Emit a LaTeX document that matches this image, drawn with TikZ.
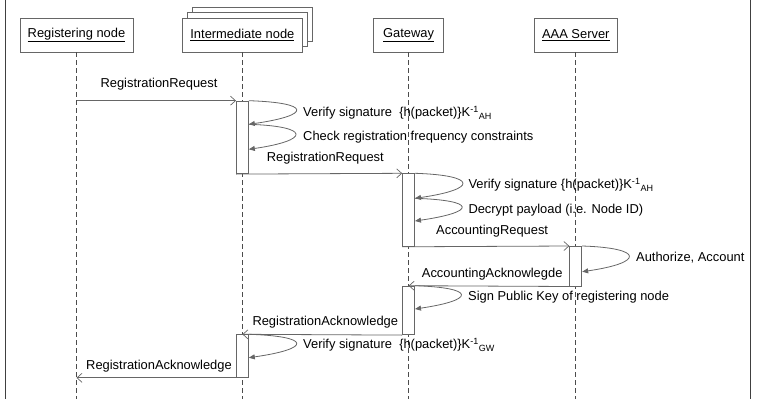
\documentclass[tikz,border=0pt]{standalone}
\usepackage{fontspec}
\setmainfont{Liberation Sans}
\usetikzlibrary{arrows.meta,calc}

\begin{document}
\begin{tikzpicture}[x=1pt,y=-1pt,
  font=\fontsize{12.9}{15}\selectfont,
  line/.style={draw=black!60, line width=0.8pt},
  actor/.style={draw=black!60, line width=0.8pt, fill=white, minimum height=34pt, inner sep=0pt},
  lifeline/.style={draw=black!70, line width=0.7pt, dash pattern=on 5pt off 3pt},
  bar/.style={draw=black!60, line width=0.8pt, fill=white, minimum width=12pt, inner sep=0pt, anchor=north},
  msg/.style={line, -{Straight Barb[length=5pt,width=9pt,line width=0.7pt]}},
  selfmsg/.style={draw=black!60, line width=0.8pt, -{Triangle[length=6pt,width=5pt]}},
  lbl/.style={inner sep=0pt, anchor=west, text=black},
  mlbl/.style={inner sep=0pt, text=black},
]
\useasboundingbox (0,0) rectangle (758,399);

% frame sides
\draw[black!75, line width=1.4pt] (5.5,0) -- (5.5,399);
\draw[black!75, line width=1.4pt] (750.5,0) -- (750.5,399);
\coordinate (bottom) at (0,399);

% participants (the intermediate node is a stack of three)
\draw[line, fill=white] (192.7,7) rectangle (312,41);
\draw[line, fill=white] (187.7,12.5) rectangle (307,46.5);
\node[actor, minimum width=113pt] (reg) at (76.5,35) {\underline{Registering node}};
\node[actor, minimum width=119.3pt] (inter) at (242.4,35) {\underline{Intermediate node}};
\node[actor, minimum width=70pt] (gw) at (408.6,35) {\underline{Gateway}};
\node[actor, minimum width=83pt] (aaa) at (575.8,35) {\underline{AAA Server}};

% lifelines
\foreach \p in {reg,inter,gw,aaa}
  \draw[lifeline] (\p.south) -- (\p.south |- bottom);

% activation bars
\node[bar, minimum height=72.6pt] (b1) at (242.4,100.7) {};
\node[bar, minimum height=72.7pt] (b2) at (408.6,173.3) {};
\node[bar, minimum height=39.7pt] (b3) at (575.8,246) {};
\node[bar, minimum height=48.6pt] (b4) at (408.6,285.7) {};
\node[bar, minimum height=42.7pt] (b5) at (242.4,334.3) {};

% points on the bars where self calls start and end
\coordinate (l1s) at (b1.north east);
\coordinate (l1e) at ($(b1.north east)+(0,23.6)$);
\coordinate (l2e) at ($(b1.north east)+(0,48.6)$);
\coordinate (l3s) at (b2.north east);
\coordinate (l3e) at ($(b2.north east)+(0,25)$);
\coordinate (l4e) at ($(b2.north east)+(0,47.7)$);
\coordinate (l5s) at (b3.north east);
\coordinate (l5e) at ($(b3.north east)+(0,25.7)$);
\coordinate (l6s) at (b4.north east);
\coordinate (l6e) at ($(b4.north east)+(0,23.3)$);
\coordinate (l7s) at (b5.north east);
\coordinate (l7e) at ($(b5.north east)+(0,23.4)$);
\coordinate (regend) at (reg.south |- b5.south);

% messages
\draw[msg] (reg.south |- b1.north) -- (b1.north west);
\node[mlbl] (m1) at (159,84) {RegistrationRequest};
\draw[msg] (b1.south west) -- (b2.north west);
\node[lbl] (m2) at (266.7,157.7) {RegistrationRequest};
\draw[msg] (b2.south west) -- (b3.north west);
\node[lbl] (m3) at (436,231) {AccountingRequest};
\draw[msg] (b3.south west) -- (b4.north);
\node[lbl] (m4) at (421.7,274) {AccountingAcknowlegde};
\draw[msg] (b4.south west) -- (b5.north);
\node[lbl] (m5) at (252.3,322.3) {RegistrationAcknowledge};
\draw[msg] (b5.south west) -- (regend);
\node[lbl] (m6) at (86,365.7) {RegistrationAcknowledge};

% self calls
\draw[selfmsg] (l1s) .. controls +(63,2) and +(63,-9) .. (l1e);
\node[lbl] (s1) at (303,113) {Verify signature\ \ \{h(packet)\}K\textsuperscript{-1}\textsubscript{AH}};
\draw[selfmsg] (l1e) .. controls +(62,2) and +(62,-9) .. (l2e);
\node[lbl] (s2) at (303,137) {Check registration frequency constraints};
\draw[selfmsg] (l3s) .. controls +(63,2) and +(63,-9) .. (l3e);
\node[lbl] (s3) at (468.3,185) {Verify signature \{h(packet)\}K\textsuperscript{-1}\textsubscript{AH}};
\draw[selfmsg] (l3e) .. controls +(62,2) and +(62,-9) .. (l4e);
\node[lbl] (s4) at (468.3,210) {Decrypt payload (i.e. Node ID)};
\draw[selfmsg] (l5s) .. controls +(62,2) and +(62,-9) .. (l5e);
\node[lbl] (s5) at (636,258) {Authorize, Account};
\draw[selfmsg] (l6s) .. controls +(61,2) and +(61,-9) .. (l6e);
\node[lbl] (s6) at (468,297) {Sign Public Key of registering node};
\draw[selfmsg] (l7s) .. controls +(63,2) and +(63,-9) .. (l7e);
\node[lbl] (s7) at (303,345) {Verify signature\ \ \{h(packet)\}K\textsuperscript{-1}\textsubscript{GW}};
\end{tikzpicture}
\end{document}
